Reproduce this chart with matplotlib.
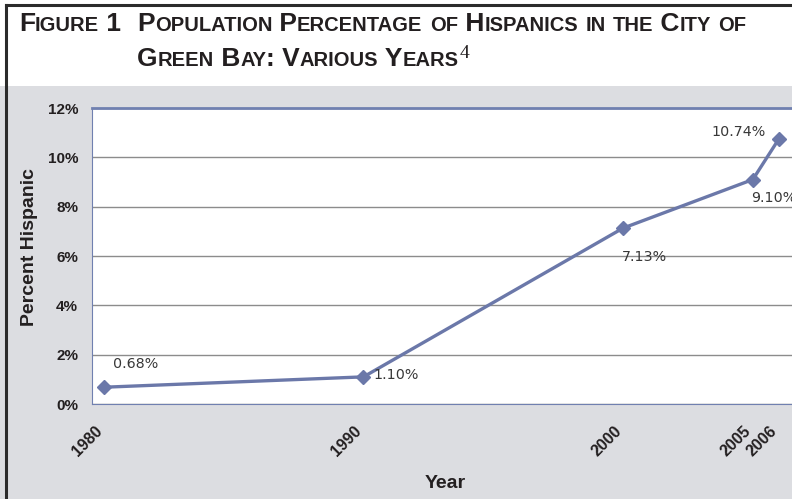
import matplotlib.pyplot as plt
from matplotlib.patches import Rectangle
from matplotlib.lines import Line2D
from matplotlib.transforms import ScaledTranslation

years = [1980, 1990, 2000, 2005, 2006]
year_labels = ["1980", "1990", "2000", "2005", "2006"]
pct = [0.68, 1.10, 7.13, 9.10, 10.74]
labels = ["0.68%", "1.10%", "7.13%", "9.10%", "10.74%"]
y_ticks = [0, 2, 4, 6, 8, 10, 12]
y_labels = ["0%", "2%", "4%", "6%", "8%", "10%", "12%"]
# label offsets in points (dx, dy) and alignment
label_pos = [(6.5, 17, "left"), (7, 1, "left"), (-1, -21, "left"), (-1, -13, "left"), (-9.5, 5, "right")]

W, H = 792, 499
fig = plt.figure(figsize=(W / 100, H / 100), dpi=100)
fig.patch.set_facecolor("white")

# grey panel behind the chart
fig.patches.append(Rectangle((0, 0), 1, 1 - 86 / H, transform=fig.transFigure,
                             facecolor="#dcdde1", edgecolor="none", zorder=-10))
# frame lines
fig.lines.append(Line2D([6 / W, 1], [1 - 5 / H, 1 - 5 / H], transform=fig.transFigure,
                        color="#2b2b2b", lw=2.2))
fig.lines.append(Line2D([6 / W, 6 / W], [0, 1 - 5 / H], transform=fig.transFigure,
                        color="#2b2b2b", lw=2.2))

# small caps title built from pieces
title_font = ["Liberation Sans Narrow", "Liberation Sans", "DejaVu Sans"]
sans = ["Liberation Sans", "DejaVu Sans"]
renderer = fig.canvas.get_renderer()


def small_caps(x, y, text, big=19, small=14.5):
    runs = []
    for ch in text:
        up = not ch.islower()
        if runs and runs[-1][1] == up:
            runs[-1][0] += ch
        else:
            runs.append([ch, up])
    for s, up in runs:
        t = fig.text(x / W, 1 - y / H, s.upper(), fontsize=big if up else small,
                     family=title_font, weight="bold", color="#231f20", va="baseline")
        x += t.get_window_extent(renderer).width
    return x


small_caps(19, 31, "Figure 1")
small_caps(137, 31, "Population Percentage of Hispanics in the City of")
xe = small_caps(137, 66, "Green Bay: Various Years")
fig.text((xe + 1) / W, 1 - 58 / H, "4", fontsize=14, family="Liberation Serif",
         color="#231f20", va="baseline")

ax = fig.add_axes([92 / W, 1 - 404 / H, 1 - 92 / W, (404 - 108) / H])
ax.set_facecolor("white")
ax.plot(years, pct, color="#6b78a9", lw=2.4, marker="D", ms=7.5, zorder=3)

for x, y, s, (dx, dy, ha) in zip(years, pct, labels, label_pos):
    ax.annotate(s, (x, y), xytext=(dx, dy), textcoords="offset points",
                fontsize=10.3, color="#383838", ha=ha, va="center", family="DejaVu Sans")

ax.set_xlim(1979.54, 2006.51)
ax.set_ylim(0, 12)
ax.set_yticks(y_ticks, labels=y_labels, fontsize=11, fontweight="bold", family=sans)
ax.set_xticks(years, labels=year_labels, fontsize=11.5, fontweight="bold", family=sans,
              rotation=45, ha="right", va="center", rotation_mode="anchor")
ax.grid(axis="y", color="#8c8c8c", lw=1)
ax.set_axisbelow(True)
ax.tick_params(length=0)
ax.tick_params(axis="y", pad=10, labelcolor="#231f20")
ax.tick_params(axis="x", pad=18, labelcolor="#231f20")
# nudge year labels a little to the left
shift = ScaledTranslation(-4 / 100, 0, fig.dpi_scale_trans)
for lab in ax.get_xticklabels():
    lab.set_transform(lab.get_transform() + shift)

for side in ["left", "bottom", "top"]:
    ax.spines[side].set_color("#7080b0")
ax.spines["top"].set_linewidth(2)
ax.spines["right"].set_visible(False)

fig.text(30 / W, 1 - 247 / H, "Percent Hispanic", rotation=90, fontsize=14, weight="bold",
         family=sans, color="#231f20", ha="center", va="center")
fig.text(445 / W, 1 - 484 / H, "Year", fontsize=14, weight="bold",
         family=sans, color="#231f20", ha="center", va="center")

fig.savefig("out.png", dpi=100)
